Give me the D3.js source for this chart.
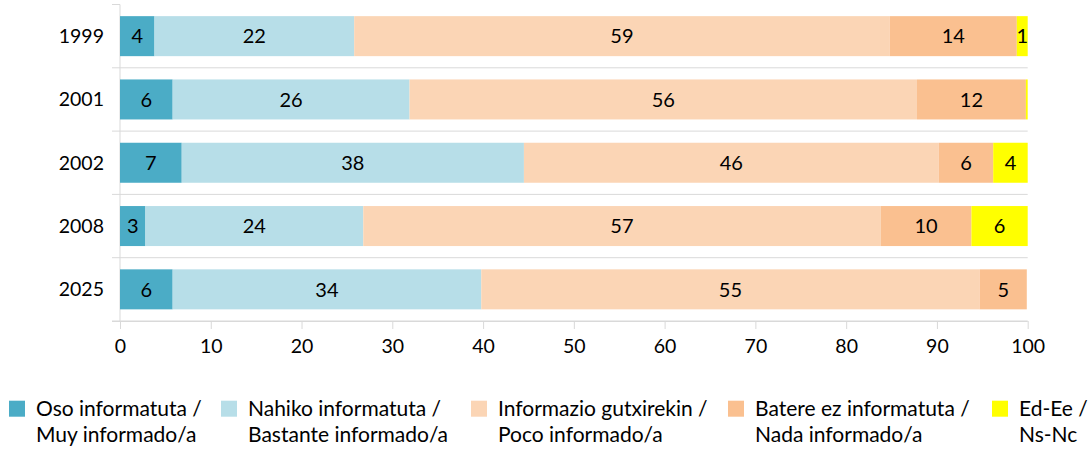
<!DOCTYPE html>
<html>
<head>
<meta charset="utf-8">
<script src="https://cdn.jsdelivr.net/npm/d3@7"></script>
<style>
    body { margin: 0; background: #fff; }
    svg text { font-family: Lato, "Open Sans", sans-serif; fill: #000; }
</style>
</head>
<body>
<svg id="chart" width="1092" height="453"></svg>
<script>
// Data
const years = ['1999', '2001', '2002', '2008', '2025'];
const seriesNames = [
    ['Oso informatuta /', 'Muy informado/a'],
    ['Nahiko informatuta /', 'Bastante informado/a'],
    ['Informazio gutxirekin /', 'Poco informado/a'],
    ['Batere ez informatuta /', 'Nada informado/a'],
    ['Ed-Ee /', 'Ns-Nc']
];
const colors = ['#4BACC6', '#B7DEE8', '#FBD5B5', '#FAC090', '#FFFF00'];

const osoInformatuta = [3.8, 5.8, 6.8, 2.8, 5.8];
const nahikoInformatuta = [22.0, 26.1, 37.7, 24.0, 34.0];
const informazioGutxi = [59.0, 55.9, 45.7, 57.0, 54.9];
const batereEz = [14.0, 12.0, 6.0, 10.0, 5.2];
const edEe = [1.2, 0.2, 3.8, 6.2, 0];

const xTicks = [0, 10, 20, 30, 40, 50, 60, 70, 80, 90, 100];

const series = [osoInformatuta, nahikoInformatuta, informazioGutxi, batereEz, edEe];

// Build rows for the stack
const rows = years.map((year, i) => {
    const row = { year: year };
    series.forEach((s, k) => { row['s' + k] = s[i]; });
    return row;
});
const keys = series.map((s, k) => 's' + k);
const stacked = d3.stack().keys(keys)(rows);

const svg = d3.select('#chart');

const x = d3.scaleLinear().domain([0, 100]).range([120, 1027.7]);
const y = d3.scaleBand().domain(years).range([4.5, 321])
    .paddingInner(0.368).paddingOuter(0.184);

const gridColor = '#D9D9D9';

// Category boundaries: gridlines + tick marks
const step = y.step();
for (let i = 0; i <= years.length; i++) {
    const yy = 4.5 + i * step;
    if (i > 0) {
        svg.append('line')
            .attr('x1', 120).attr('x2', 1027.7)
            .attr('y1', yy).attr('y2', yy)
            .attr('stroke', gridColor).attr('stroke-width', 1);
    }
    svg.append('line')
        .attr('x1', 112).attr('x2', 120)
        .attr('y1', yy).attr('y2', yy)
        .attr('stroke', gridColor).attr('stroke-width', 1);
}

// Vertical axis line
svg.append('line')
    .attr('x1', 120).attr('x2', 120)
    .attr('y1', 4.5).attr('y2', 321)
    .attr('stroke', gridColor).attr('stroke-width', 1);

// Bars
const layer = svg.selectAll('.layer')
    .data(stacked)
    .enter()
    .append('g')
    .attr('class', 'layer')
    .attr('fill', (d, k) => colors[k]);

layer.selectAll('rect')
    .data(d => d)
    .enter()
    .append('rect')
    .attr('x', d => x(d[0]))
    .attr('y', d => y(d.data.year))
    .attr('width', d => x(d[1]) - x(d[0]))
    .attr('height', y.bandwidth());

// Data labels
layer.selectAll('text')
    .data(d => d.filter(p => p[1] - p[0] >= 0.5))
    .enter()
    .append('text')
    .attr('x', d => (x(d[0]) + x(d[1])) / 2)
    .attr('y', d => y(d.data.year) + y.bandwidth() / 2)
    .attr('dy', '0.36em')
    .attr('text-anchor', 'middle')
    .style('font-size', '20px')
    .text(d => Math.round(d[1] - d[0]));

// Category labels
svg.selectAll('.ylabel')
    .data(years)
    .enter()
    .append('text')
    .attr('class', 'ylabel')
    .attr('x', 104)
    .attr('y', d => y(d) + y.bandwidth() / 2)
    .attr('dy', '0.36em')
    .attr('text-anchor', 'end')
    .style('font-size', '19.5px')
    .text(d => d);

// Bottom axis
const xAxis = svg.append('g')
    .attr('transform', 'translate(0,321)')
    .call(d3.axisBottom(x).tickValues(xTicks).tickSize(8).tickSizeOuter(0).tickPadding(10));
xAxis.select('.domain').attr('stroke', gridColor).attr('d', 'M112,0.5H1027.7');
xAxis.selectAll('.tick line').attr('stroke', gridColor);
xAxis.selectAll('.tick text')
    .style('font-family', 'Lato, "Open Sans", sans-serif')
    .style('font-size', '19.5px')
    .attr('fill', '#000');

// Legend
const legendX = [9, 221, 471, 728, 992];
const legend = svg.selectAll('.legend')
    .data(seriesNames)
    .enter()
    .append('g')
    .attr('class', 'legend')
    .attr('transform', (d, k) => 'translate(' + legendX[k] + ',400.7)');

legend.append('rect')
    .attr('width', 16).attr('height', 16)
    .attr('fill', (d, k) => colors[k]);

legend.append('text')
    .attr('x', 27)
    .attr('y', 15)
    .style('font-size', '21px')
    .selectAll('tspan')
    .data(d => d)
    .enter()
    .append('tspan')
    .attr('x', 27)
    .attr('dy', (d, i) => i === 0 ? 0 : 26.5)
    .text(d => d);
</script>
</body>
</html>
